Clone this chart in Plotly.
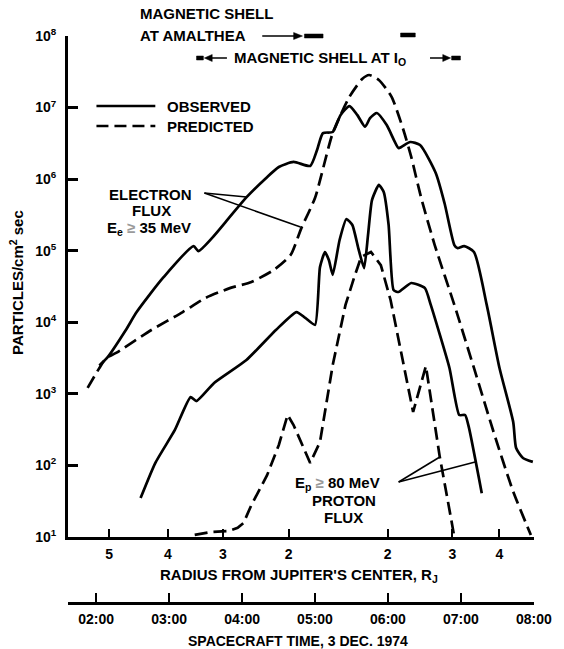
import plotly.graph_objects as go

# ---------------- data (time in decimal hours UT, 3 Dec 1974; flux in particles/cm^2 sec) -------------
elec_obs_t = [2.044, 2.152, 2.407, 2.555, 2.918, 3.335, 3.402, 3.590, 3.832, 4.062, 4.331, 4.504,
              4.706, 4.934, 5.028, 5.109, 5.243, 5.351, 5.472, 5.579, 5.687, 5.754, 5.848, 5.983,
              6.144, 6.184, 6.305, 6.440, 6.655, 6.776, 6.910, 6.951, 7.045, 7.179, 7.354, 7.529,
              7.717, 7.757, 7.851, 7.986]
elec_obs = [2.5e3, 3.2e3, 7.8e3, 1.39e4, 4.2e4, 1.16e5, 9.9e4, 1.51e5, 2.96e5, 5.6e5, 1.04e6, 1.48e6,
            1.74e6, 1.53e6, 2.55e6, 4.4e6, 4.56e6, 7.9e6, 1.05e7, 7.9e6, 5.4e6, 7.1e6, 8.4e6, 5.7e6,
            2.72e6, 2.81e6, 3.3e6, 3.0e6, 1.22e6, 4.6e5, 1.2e5, 1.09e5, 1.16e5, 9.6e4, 1.75e4, 2.3e3,
            405, 175, 127, 112]

elec_pred_t = [1.883, 2.044, 2.138, 2.273, 2.757, 3.187, 3.496, 3.832, 4.128, 4.437, 4.665, 4.813,
               5.001, 5.243, 5.472, 5.646, 5.741, 5.875, 6.050, 6.211, 6.319, 6.453, 6.641, 6.910,
               7.179, 7.448, 7.717, 7.959]
elec_pred = [1.21e3, 2.3e3, 3.17e3, 3.73e3, 7.8e3, 1.39e4, 2.18e4, 3.0e4, 3.66e4, 5.4e4, 8.7e4, 2.07e5,
             5.5e5, 4.4e6, 1.41e7, 2.5e7, 2.85e7, 2.43e7, 1.41e7, 4.9e6, 2.04e6, 5.6e5, 1.2e5, 1.75e4,
             2.3e3, 293, 43, 10.7]

prot_obs_t = [2.609, 2.810, 3.079, 3.294, 3.375, 3.617, 4.060, 4.464, 4.746, 4.867, 5.001, 5.068,
              5.136, 5.190, 5.243, 5.337, 5.431, 5.512, 5.593, 5.673, 5.727, 5.781, 5.875, 5.942,
              6.009, 6.077, 6.144, 6.319, 6.507, 6.587, 6.843, 6.977, 7.058, 7.111, 7.286]
prot_obs = [35, 108, 313, 900, 794, 1.42e3, 2.97e3, 7.8e3, 1.39e4, 1.15e4, 9.2e3, 5.9e4,
            9.6e4, 7.4e4, 4.6e4, 1.41e5, 2.77e5, 2.29e5, 1.09e5, 5.7e4, 1.66e5, 5.1e5, 8.3e5, 6.6e5,
            2.29e5, 2.82e4, 2.65e4, 3.54e4, 3.0e4, 1.75e4, 2.3e3, 507, 507, 334, 41]

prot_pred_t = [3.351, 3.566, 3.806, 3.940, 4.020, 4.128, 4.343, 4.504, 4.625, 4.706, 4.934, 5.068,
               5.243, 5.418, 5.539, 5.633, 5.767, 5.902, 6.036, 6.144, 6.211, 6.345, 6.520, 6.708,
               6.856, 6.910]
prot_pred = [10.7, 11.7, 12.1, 13.4, 15.7, 28, 73, 193, 507, 367, 108, 212,
             2.53e3, 1.75e4, 4.3e4, 8.2e4, 9.6e4, 6.3e4, 2.05e4, 5.7e3, 2.53e3, 558, 2.45e3, 136,
             20.3, 10]

# radius-from-Jupiter tick positions (hours) and labels
radius_tick_t = [2.179, 2.985, 3.738, 4.638, 5.996, 6.883, 7.528]
radius_tick_labels = ["5", "4", "3", "2", "2", "3", "4"]

# spacecraft time ticks
time_ticks = [2, 3, 4, 5, 6, 7, 8]
time_tick_labels = ["02:00", "03:00", "04:00", "05:00", "06:00", "07:00", "08:00"]

y_tickvals = [1e1, 1e2, 1e3, 1e4, 1e5, 1e6, 1e7, 1e8]
y_ticktext = ["10<sup>1</sup>", "10<sup>2</sup>", "10<sup>3</sup>", "10<sup>4</sup>",
              "10<sup>5</sup>", "10<sup>6</sup>", "10<sup>7</sup>", "10<sup>8</sup>"]

X_RANGE = [1.614, 8.002]

# ---------------- layout geometry ----------------
W, H = 564, 649
ML, MR, MT, MB = 68, 21, 36, 46
PW, PH = W - ML - MR, H - MT - MB
Y_DOMAIN_BOTTOM = (H - MB - 537) / PH


def X(px):
    return (px - ML) / PW


def Y(py):
    return (H - MB - py) / PH


FONT = "Liberation Sans, Arial, Helvetica, sans-serif"
DASH = "13px,6px"
LW = 2.7

fig = go.Figure()

fig.add_trace(go.Scatter(x=elec_obs_t, y=elec_obs, mode="lines", name="OBSERVED",
                         line=dict(color="black", width=LW, shape="spline", smoothing=0.6)))
fig.add_trace(go.Scatter(x=elec_pred_t, y=elec_pred, mode="lines", name="PREDICTED",
                         line=dict(color="black", width=LW, dash=DASH, shape="spline", smoothing=0.6)))
fig.add_trace(go.Scatter(x=prot_obs_t, y=prot_obs, mode="lines", name="proton observed",
                         line=dict(color="black", width=LW, shape="spline", smoothing=0.5)))
fig.add_trace(go.Scatter(x=prot_pred_t, y=prot_pred, mode="lines", name="proton predicted",
                         line=dict(color="black", width=LW, dash=DASH)))
# dummy trace for the time axis
fig.add_trace(go.Scatter(x=[X_RANGE[0]], y=[None], xaxis="x2", showlegend=False, hoverinfo="skip"))

fig.update_layout(
    width=W, height=H,
    margin=dict(l=ML, r=MR, t=MT, b=MB),
    plot_bgcolor="white", paper_bgcolor="white",
    showlegend=False,
    font=dict(family=FONT, size=14, color="black", weight="bold"),
    xaxis=dict(range=X_RANGE, showgrid=False, zeroline=False, showline=True, linecolor="black",
               linewidth=2.5, ticks="inside", ticklen=8, tickwidth=2, tickcolor="black",
               tickvals=radius_tick_t, ticktext=radius_tick_labels, anchor="y",
               tickfont=dict(size=14), ticklabelstandoff=2),
    xaxis2=dict(range=X_RANGE, overlaying="x", anchor="free", position=0, side="bottom",
                showgrid=False, zeroline=False, showline=True, linecolor="black", linewidth=2.5,
                ticks="inside", ticklen=9, tickwidth=2, tickcolor="black",
                tickvals=time_ticks, ticktext=time_tick_labels, tickfont=dict(size=14),
                ticklabelstandoff=2),
    yaxis=dict(type="log", range=[1, 8], domain=[Y_DOMAIN_BOTTOM, 1], showgrid=False, zeroline=False,
               showline=True, linecolor="black", linewidth=3, ticks="inside", ticklen=10,
               tickwidth=2.5, tickcolor="black", tickvals=y_tickvals, ticktext=y_ticktext,
               tickfont=dict(size=14), ticklabelstandoff=6),
)


def label(text, x, y, size=15, xanchor="center", color="black", angle=0):
    fig.add_annotation(text=text, x=X(x), y=Y(y), xref="paper", yref="paper", showarrow=False,
                       xanchor=xanchor, yanchor="middle", textangle=angle,
                       font=dict(size=size, color=color, family=FONT, weight="bold"))


def seg(x0, y0, x1, y1, width=1.6, dash=None):
    fig.add_shape(type="line", xref="paper", yref="paper", x0=X(x0), y0=Y(y0), x1=X(x1), y1=Y(y1),
                  line=dict(color="black", width=width, dash=dash))


def poly(points):
    path = "M " + " L ".join(f"{X(a):.5f},{Y(b):.5f}" for a, b in points) + " Z"
    fig.add_shape(type="path", xref="paper", yref="paper", path=path,
                  fillcolor="black", line=dict(color="black", width=0.5))


# axis titles
label("RADIUS FROM JUPITER'S CENTER, R<sub>J</sub>", 303, 575, size=15)
label("SPACECRAFT TIME, 3 DEC. 1974", 302, 641, size=14)
label("PARTICLES/cm<sup>2</sup> sec", 15, 283, size=15, angle=-90)

# legend
seg(97, 106, 157, 106, width=LW)
label("OBSERVED", 167, 106, size=15, xanchor="left")
seg(97, 126, 157, 126, width=LW, dash="12px,6px")
label("PREDICTED", 167, 126, size=15, xanchor="left")

# magnetic shell markers
label("MAGNETIC SHELL", 139, 14, size=15, xanchor="left")
label("AT AMALTHEA", 139, 35, size=15, xanchor="left")
seg(266, 36, 300, 36, width=1.5)
poly([(298, 32.5), (307, 36), (298, 39.5)])
poly([(309, 34), (328, 34), (328, 38), (309, 38)])
poly([(407, 33), (422, 33), (422, 37), (407, 37)])

label("MAGNETIC SHELL AT I<sub>O</sub>", 235, 58, size=15, xanchor="left")
poly([(199, 56), (206, 56), (206, 60), (199, 60)])
poly([(207, 58), (215, 54.5), (215, 61.5)])
seg(214, 58, 230, 58, width=1.5)
seg(437, 58, 452, 58, width=1.5)
poly([(450, 54.5), (458, 58), (450, 61.5)])
poly([(459, 56), (468, 56), (468, 60), (459, 60)])

# electron flux label
label("ELECTRON", 152, 194, size=15)
label("FLUX", 153, 210, size=15)
label("E<sub>e</sub> <span style='color:#9a9a9a'>≥</span> 35 MeV", 151, 228, size=15)
seg(207, 193, 250, 197)
seg(207, 193, 305, 227)

# proton flux label
label("E<sub>p</sub> <span style='color:#9a9a9a'>≥</span> 80 MeV", 297, 483, size=15, xanchor="left")
label("PROTON", 349, 500, size=15)
label("FLUX", 349, 517, size=15)
seg(405, 482, 447, 457)
seg(405, 482, 483, 462)

fig.write_html("out.html", config={"displayModeBar": False},
               post_script="document.body.style.margin='0';")
